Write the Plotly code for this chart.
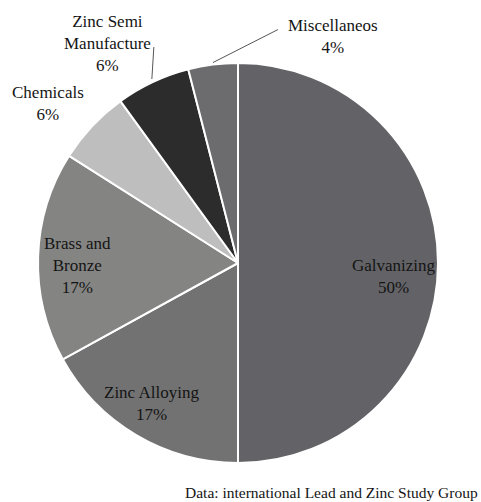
import math
import plotly.graph_objects as go

# Zinc end uses, share of consumption (%)
categories = ["Galvanizing", "Zinc Alloying", "Brass and Bronze",
              "Chemicals", "Zinc Semi Manufacture", "Miscellaneos"]
display_names = ["Galvanizing", "Zinc Alloying", "Brass and<br>Bronze",
                 "Chemicals", "Zinc Semi<br>Manufacture", "Miscellaneos"]
shares = [50, 17, 17, 6, 6, 4]
slice_colors = ["#636367", "#727272", "#848483", "#bebebe", "#2c2c2c", "#6c6c6f"]
source_note = "Data: international Lead and Zinc Study Group"

W, H = 481, 502
CX, CY, R = 238, 263, 200          # pie centre and radius in pixels
FONT = "Liberation Serif"
TEXT_COLOR = "#141414"

# label placement: (radius factor, dx px, dy px, leader line?)
placement = [
    (0.78, 0, 13, False),
    (0.80, -5, 3, False),
    (0.80, -1, 8, False),
    (1.00, -44, -23, False),
    (1.00, -45, -39, True),
    (1.00, 120, -28, True),
]
# leader lines: from edge point offset (start) to (end), px
leaders = {4: ((-1, -3), (1, -35)), 5: ((0, -2), (65, -35))}


def px(x):
    return x / W


def py(y):
    return 1 - y / H


fig = go.Figure(go.Pie(
    labels=categories,
    values=shares,
    sort=False,
    direction="clockwise",
    rotation=0,
    textinfo="none",
    hoverinfo="label+percent",
    marker=dict(colors=slice_colors, line=dict(color="white", width=2)),
    domain=dict(x=[px(CX - R), px(CX + R)], y=[py(CY + R), py(CY - R)]),
    showlegend=False,
))

total = sum(shares)
cum = 0
annotations = []
shapes = []
for i, (name, v) in enumerate(zip(display_names, shares)):
    mid = (cum + v / 2) / total * 2 * math.pi
    cum += v
    rf, dx, dy, lead = placement[i]
    ex = CX + R * rf * math.sin(mid)
    ey = CY - R * rf * math.cos(mid)
    tx, ty = ex + dx, ey + dy
    annotations.append(dict(
        x=px(tx), y=py(ty), xref="paper", yref="paper",
        text=f"{name}<br>{v}%", showarrow=False,
        xanchor="center", yanchor="middle", align="center",
        font=dict(family=FONT, size=17, color=TEXT_COLOR),
    ))
    if lead:
        (sx, sy), (qx, qy) = leaders[i]
        shapes.append(dict(
            type="line", xref="paper", yref="paper",
            x0=px(ex + sx), y0=py(ey + sy), x1=px(ex + qx), y1=py(ey + qy),
            line=dict(color="#555555", width=1),
        ))

annotations.append(dict(
    x=px(480), y=py(492), xref="paper", yref="paper",
    text=source_note, showarrow=False, xanchor="right", yanchor="middle",
    font=dict(family=FONT, size=15.5, color=TEXT_COLOR),
))

fig.update_layout(
    width=W, height=H,
    margin=dict(l=0, r=0, t=0, b=0),
    paper_bgcolor="white", plot_bgcolor="white",
    annotations=annotations, shapes=shapes,
)

fig.write_html("out.html")
